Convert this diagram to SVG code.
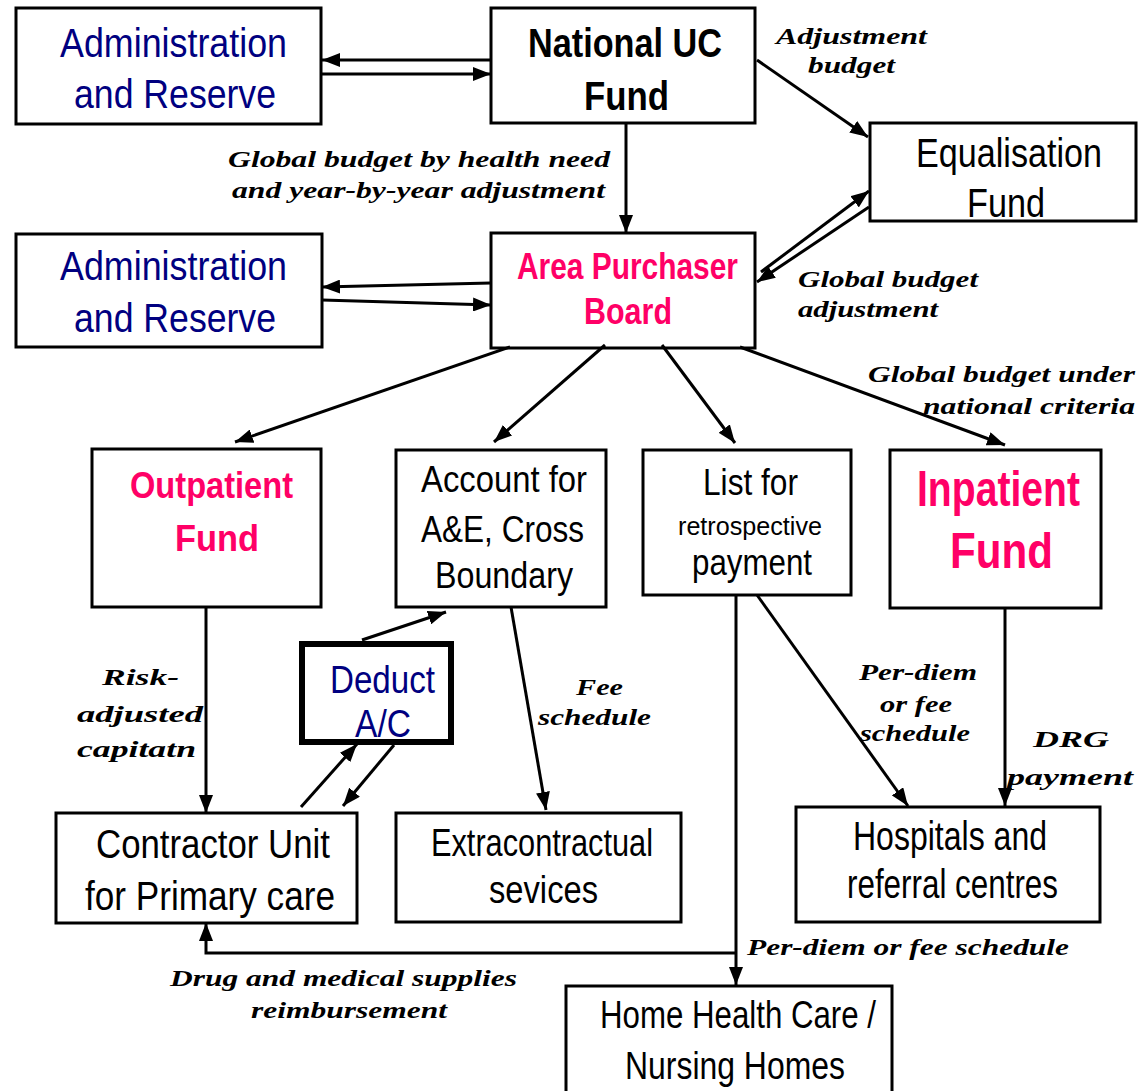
<svg xmlns="http://www.w3.org/2000/svg" width="1138" height="1091" viewBox="0 0 1138 1091">
<defs>
<marker id="ah" markerUnits="userSpaceOnUse" markerWidth="18" markerHeight="14" refX="18" refY="7" orient="auto">
<path d="M0,0 L18,7 L0,14 z" fill="#000"/>
</marker>
<style>
.box{fill:#fff;stroke:#000;stroke-width:3}
.thick{fill:#fff;stroke:#000;stroke-width:6}
.t{font-family:"Liberation Sans",Arial,sans-serif;fill:#000}
.navy{fill:#000080}
.pink{fill:#FF0066;font-weight:bold}
.b{font-weight:bold}
.lbl{font-family:"Liberation Serif","Times New Roman",serif;font-style:italic;font-weight:bold;font-size:24px;fill:#000}
.c line,.c polyline{stroke:#000;stroke-width:3;fill:none;marker-end:url(#ah)}
</style>
</defs>
<rect width="1138" height="1091" fill="#fff"/>

<g id="admin1">
<rect class="box" x="16" y="8" width="305" height="116"/>
<text class="t navy" font-size="40" x="60" y="57" textLength="227" lengthAdjust="spacingAndGlyphs">Administration</text>
<text class="t navy" font-size="40" x="74" y="108" textLength="202" lengthAdjust="spacingAndGlyphs">and Reserve</text>
</g>
<g id="national">
<rect class="box" x="491" y="8" width="264" height="115"/>
<text class="t b" font-size="41" x="528" y="57" textLength="194" lengthAdjust="spacingAndGlyphs">National UC</text>
<text class="t b" font-size="41" x="584" y="110" textLength="85" lengthAdjust="spacingAndGlyphs">Fund</text>
</g>
<g id="equalisation">
<rect class="box" x="870" y="123" width="266" height="98"/>
<text class="t" font-size="40" x="916" y="167" textLength="186" lengthAdjust="spacingAndGlyphs">Equalisation</text>
<text class="t" font-size="40" x="967" y="217" textLength="78" lengthAdjust="spacingAndGlyphs">Fund</text>
</g>
<g id="admin2">
<rect class="box" x="16" y="234" width="306" height="113"/>
<text class="t navy" font-size="40" x="60" y="280" textLength="227" lengthAdjust="spacingAndGlyphs">Administration</text>
<text class="t navy" font-size="40" x="74" y="332" textLength="202" lengthAdjust="spacingAndGlyphs">and Reserve</text>
</g>
<g id="area">
<rect class="box" x="491" y="233" width="264" height="115"/>
<text class="t pink" font-size="37" x="517" y="279" textLength="221" lengthAdjust="spacingAndGlyphs">Area Purchaser</text>
<text class="t pink" font-size="37" x="584" y="324" textLength="88" lengthAdjust="spacingAndGlyphs">Board</text>
</g>
<g id="outpatient">
<rect class="box" x="92" y="449" width="229" height="158"/>
<text class="t pink" font-size="37" x="130" y="498" textLength="163" lengthAdjust="spacingAndGlyphs">Outpatient</text>
<text class="t pink" font-size="37" x="175" y="551" textLength="84" lengthAdjust="spacingAndGlyphs">Fund</text>
</g>
<g id="account">
<rect class="box" x="396" y="450" width="210" height="157"/>
<text class="t" font-size="37" x="421" y="492" textLength="166" lengthAdjust="spacingAndGlyphs">Account for</text>
<text class="t" font-size="37" x="421" y="542" textLength="163" lengthAdjust="spacingAndGlyphs">A&amp;E, Cross</text>
<text class="t" font-size="37" x="435" y="588" textLength="138" lengthAdjust="spacingAndGlyphs">Boundary</text>
</g>
<g id="list">
<rect class="box" x="643" y="450" width="208" height="145"/>
<text class="t" font-size="37" x="703" y="495" textLength="95" lengthAdjust="spacingAndGlyphs">List for</text>
<text class="t" font-size="25" x="678" y="535" textLength="144" lengthAdjust="spacingAndGlyphs">retrospective</text>
<text class="t" font-size="37" x="692" y="575" textLength="120" lengthAdjust="spacingAndGlyphs">payment</text>
</g>
<g id="inpatient">
<rect class="box" x="890" y="450" width="211" height="158"/>
<text class="t pink" font-size="50" x="917" y="506" textLength="163" lengthAdjust="spacingAndGlyphs">Inpatient</text>
<text class="t pink" font-size="50" x="950" y="568" textLength="103" lengthAdjust="spacingAndGlyphs">Fund</text>
</g>
<g id="deduct">
<rect class="thick" x="302" y="644" width="149" height="98"/>
<text class="t navy" font-size="38" x="330" y="693" textLength="105" lengthAdjust="spacingAndGlyphs">Deduct</text>
<text class="t navy" font-size="38" x="355" y="737" textLength="56" lengthAdjust="spacingAndGlyphs">A/C</text>
</g>
<g id="contractor">
<rect class="box" x="56" y="813" width="301" height="110"/>
<text class="t" font-size="40" x="96" y="858" textLength="234" lengthAdjust="spacingAndGlyphs">Contractor Unit</text>
<text class="t" font-size="40" x="85" y="910" textLength="250" lengthAdjust="spacingAndGlyphs">for Primary care</text>
</g>
<g id="extracontractual">
<rect class="box" x="396" y="813" width="285" height="109"/>
<text class="t" font-size="38" x="431" y="856" textLength="222" lengthAdjust="spacingAndGlyphs">Extracontractual</text>
<text class="t" font-size="38" x="489" y="903" textLength="109" lengthAdjust="spacingAndGlyphs">sevices</text>
</g>
<g id="hospitals">
<rect class="box" x="796" y="807" width="304" height="115"/>
<text class="t" font-size="40" x="853" y="850" textLength="194" lengthAdjust="spacingAndGlyphs">Hospitals and</text>
<text class="t" font-size="40" x="847" y="898" textLength="211" lengthAdjust="spacingAndGlyphs">referral centres</text>
</g>
<g id="home">
<rect class="box" x="566" y="986" width="326" height="130"/>
<text class="t" font-size="38" x="600" y="1028" textLength="276" lengthAdjust="spacingAndGlyphs">Home Health Care /</text>
<text class="t" font-size="38" x="625" y="1079" textLength="220" lengthAdjust="spacingAndGlyphs">Nursing Homes</text>
</g>

<g id="connectors" class="c">
<line x1="491" y1="60" x2="322" y2="60"/>
<line x1="322" y1="74" x2="491" y2="74"/>
<line x1="757" y1="60" x2="868" y2="137"/>
<line x1="626" y1="123" x2="626" y2="233"/>
<line x1="761" y1="272" x2="869" y2="191"/>
<line x1="869" y1="207" x2="757" y2="282"/>
<line x1="491" y1="283" x2="322" y2="287"/>
<line x1="322" y1="300" x2="491" y2="305"/>
<line x1="510" y1="347" x2="235" y2="442"/>
<line x1="605" y1="345" x2="494" y2="442"/>
<line x1="662" y1="345" x2="735" y2="443"/>
<line x1="740" y1="347" x2="1005" y2="445"/>
<line x1="206" y1="607" x2="206" y2="813"/>
<line x1="362" y1="640" x2="446" y2="612"/>
<line x1="301" y1="807" x2="357" y2="744"/>
<line x1="394" y1="745" x2="343" y2="806"/>
<line x1="511" y1="607" x2="546" y2="810"/>
<line x1="757" y1="595" x2="908" y2="806"/>
<line x1="1005" y1="608" x2="1005" y2="806"/>
<line x1="736" y1="595" x2="736" y2="985"/>
<polyline points="736,953 206,953 206,923"/>
</g>

<g id="labels">
<text class="lbl" x="776" y="44" textLength="151" lengthAdjust="spacingAndGlyphs">Adjustment</text>
<text class="lbl" x="808" y="73" textLength="87" lengthAdjust="spacingAndGlyphs">budget</text>
<text class="lbl" x="228" y="167" textLength="382" lengthAdjust="spacingAndGlyphs">Global budget by health need</text>
<text class="lbl" x="232" y="198" textLength="373" lengthAdjust="spacingAndGlyphs">and year-by-year adjustment</text>
<text class="lbl" x="798" y="287" textLength="180" lengthAdjust="spacingAndGlyphs">Global budget</text>
<text class="lbl" x="798" y="317" textLength="140" lengthAdjust="spacingAndGlyphs">adjustment</text>
<text class="lbl" x="868" y="382" textLength="267" lengthAdjust="spacingAndGlyphs">Global budget under</text>
<text class="lbl" x="923" y="414" textLength="212" lengthAdjust="spacingAndGlyphs">national criteria</text>
<text class="lbl" x="102" y="685" textLength="77" lengthAdjust="spacingAndGlyphs">Risk-</text>
<text class="lbl" x="77" y="722" textLength="126" lengthAdjust="spacingAndGlyphs">adjusted</text>
<text class="lbl" x="77" y="757" textLength="119" lengthAdjust="spacingAndGlyphs">capitatn</text>
<text class="lbl" x="576" y="695" textLength="47" lengthAdjust="spacingAndGlyphs">Fee</text>
<text class="lbl" x="538" y="725" textLength="113" lengthAdjust="spacingAndGlyphs">schedule</text>
<text class="lbl" x="859" y="680" textLength="118" lengthAdjust="spacingAndGlyphs">Per-diem</text>
<text class="lbl" x="880" y="712" textLength="72" lengthAdjust="spacingAndGlyphs">or fee</text>
<text class="lbl" x="860" y="741" textLength="110" lengthAdjust="spacingAndGlyphs">schedule</text>
<text class="lbl" x="1033" y="747" textLength="76" lengthAdjust="spacingAndGlyphs">DRG</text>
<text class="lbl" x="1007" y="785" textLength="126" lengthAdjust="spacingAndGlyphs">payment</text>
<text class="lbl" x="747" y="955" textLength="322" lengthAdjust="spacingAndGlyphs">Per-diem or fee schedule</text>
<text class="lbl" x="170" y="986" textLength="347" lengthAdjust="spacingAndGlyphs">Drug and medical supplies</text>
<text class="lbl" x="251" y="1018" textLength="196" lengthAdjust="spacingAndGlyphs">reimbursement</text>
</g>
</svg>
